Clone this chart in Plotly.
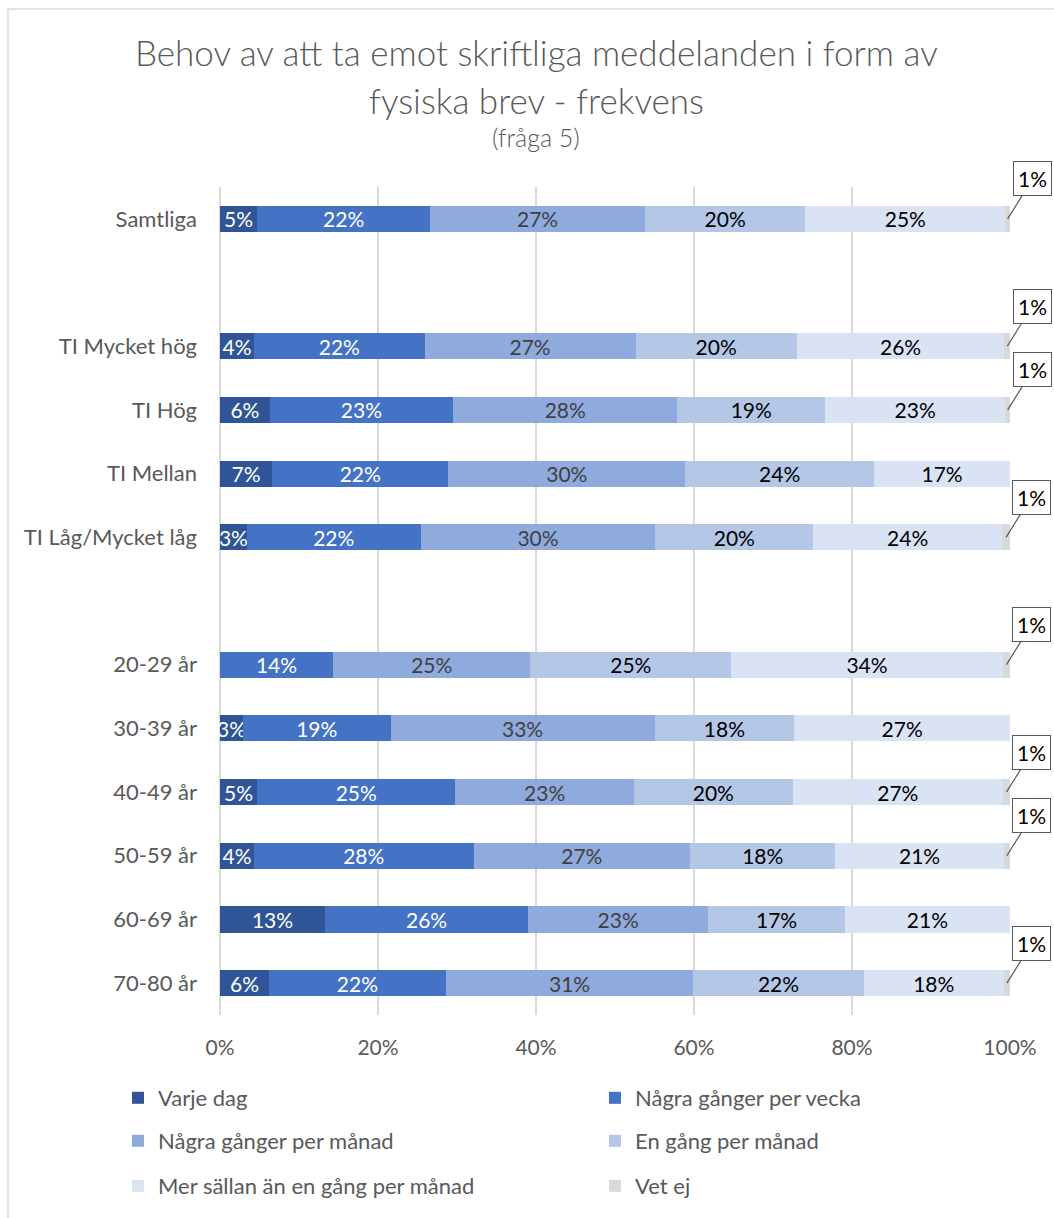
import plotly.graph_objects as go

categories = ["Samtliga", " ", "TI Mycket hög", "TI Hög", "TI Mellan", "TI Låg/Mycket låg", "  ",
              "20-29 år", "30-39 år", "40-49 år", "50-59 år", "60-69 år", "70-80 år"]

series_names = ["Varje dag", "Några gånger per vecka", "Några gånger per månad",
                "En gång per månad", "Mer sällan än en gång per månad", "Vet ej"]

varje_dag = [4.7, None, 4.3, 6.3, 6.6, 3.4, None, 0, 2.9, 4.7, 4.3, 13.3, 6.2]
per_vecka = [21.9, None, 21.6, 23.2, 22.3, 22.0, None, 14.3, 18.7, 25.1, 27.8, 25.7, 22.4]
per_manad = [27.2, None, 26.7, 28.4, 30.0, 29.7, None, 25.0, 33.4, 22.6, 27.4, 22.8, 31.3]
en_gang = [20.3, None, 20.4, 18.7, 23.9, 20.0, None, 25.4, 17.7, 20.1, 18.4, 17.3, 21.6]
mer_sallan = [25.3, None, 26.3, 22.8, 17.2, 23.9, None, 34.4, 27.3, 26.6, 21.3, 20.9, 17.7]
vet_ej = [0.6, None, 0.7, 0.6, 0, 1.0, None, 0.9, 0, 0.9, 0.8, 0, 0.8]

x_ticks = [0, 20, 40, 60, 80, 100]
x_tick_labels = ["0%", "20%", "40%", "60%", "80%", "100%"]

colors = ["#2F5597", "#4472C4", "#8FAADC", "#B4C7E7", "#DAE3F3", "#D9D9D9"]
text_colors = ["#FFFFFF", "#FFFFFF", "#404040", "#000000", "#000000", "#000000"]
legend_ids = ["legend", "legend", "legend2", "legend2", "legend3", "legend3"]

all_series = [varje_dag, per_vecka, per_manad, en_gang, mer_sallan, vet_ej]

FONT = "Lato, 'Open Sans', sans-serif"
W, HT = 1054, 1218

fig = go.Figure()
for i, (name, vals) in enumerate(zip(series_names, all_series)):
    if name == "Vet ej":
        txt = ["" for _ in vals]
    else:
        txt = [f"{v:.0f}%" if v else "" for v in vals]
    fig.add_trace(go.Bar(
        y=categories, x=vals, name=name, orientation="h",
        marker=dict(color=colors[i], line=dict(width=0)),
        text=txt, texttemplate="%{text}", textposition="inside",
        insidetextanchor="middle", textangle=0, constraintext="none",
        textfont=dict(family=FONT, size=21, color=text_colors[i]),
        legend=legend_ids[i], hoverinfo="skip", cliponaxis=False,
    ))

# callouts for "Vet ej"
annotations = []
for cat, vals in zip(categories, zip(*all_series)):
    if vals[0] is None:
        continue
    v = vals[5]
    if v and v > 0:
        end = sum(vals)
        annotations.append(dict(
            x=end - v / 2, y=cat, xref="x", yref="y",
            text=f"{v:.0f}%", showarrow=True, arrowhead=0, arrowwidth=1.2,
            arrowcolor="#595959", ax=25, ay=-40,
            bordercolor="#595959", borderwidth=1, borderpad=4, bgcolor="#FFFFFF",
            font=dict(family=FONT, size=21, color="#000000"),
        ))

# title lines
PT, PB = 187, 1015
H = PB - PT
def py(p):
    return (PB - p) / H

title_font = dict(family=FONT, size=35, color="#595959", weight=300)
annotations += [
    dict(text="Behov av att ta emot skriftliga meddelanden i form av", x=0.40, y=py(52),
         xref="paper", yref="paper", showarrow=False, xanchor="center", yanchor="middle",
         font=title_font),
    dict(text="fysiska brev - frekvens", x=0.40, y=py(100),
         xref="paper", yref="paper", showarrow=False, xanchor="center", yanchor="middle",
         font=title_font),
    dict(text="(fråga 5)", x=0.40, y=py(137),
         xref="paper", yref="paper", showarrow=False, xanchor="center", yanchor="middle",
         font=dict(family=FONT, size=25, color="#595959", weight=300)),
]

leg_common = dict(orientation="h", xanchor="left", yanchor="top",
                  x=(118 - 220) / 790,
                  entrywidth=432, font=dict(family=FONT, size=22, color="#595959"),
                  bgcolor="rgba(0,0,0,0)", traceorder="normal")

fig.update_layout(
    width=W, height=HT,
    margin=dict(l=220, r=44, t=PT, b=HT - PB, autoexpand=False),
    barmode="stack", bargap=0.59,
    plot_bgcolor="#FFFFFF", paper_bgcolor="#FFFFFF",
    font=dict(family=FONT, color="#595959"),
    xaxis=dict(range=[0, 100], tickmode="array", tickvals=x_ticks, ticktext=x_tick_labels,
               showgrid=True,
               gridcolor="#D9D9D9", gridwidth=1.5, zeroline=True, zerolinecolor="#D9D9D9",
               zerolinewidth=1.5, showline=False, ticks="", ticklabelstandoff=18,
               tickfont=dict(family=FONT, size=21, color="#595959"), fixedrange=True),
    yaxis=dict(range=[len(categories) - 0.5, -0.5], autorange=False,
               showgrid=False, showline=False, ticks="",
               ticklabelstandoff=22, tickfont=dict(family=FONT, size=22, color="#595959"),
               fixedrange=True),
    legend=dict(**leg_common, y=py(1077)),
    legend2=dict(**leg_common, y=py(1120)),
    legend3=dict(**leg_common, y=py(1165)),
    annotations=annotations,
    shapes=[dict(type="rect", xref="paper", yref="paper",
                 x0=(8 - 220) / 790, x1=1.2, y0=-0.5, y1=py(9),
                 line=dict(color="#D9D9D9", width=1.5), fillcolor="rgba(0,0,0,0)", layer="below")],
)

fig.write_html("out.html")
